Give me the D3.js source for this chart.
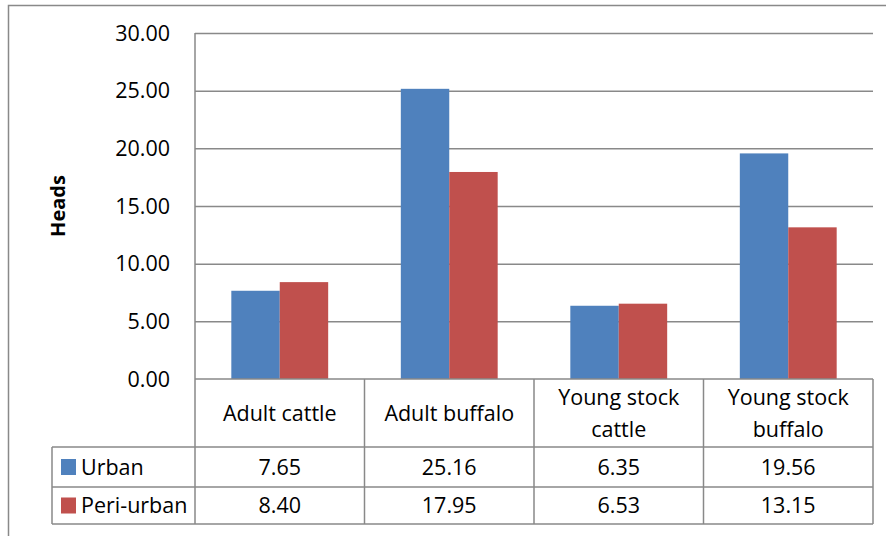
<!DOCTYPE html>
<html>
<head>
<meta charset="utf-8">
<script src="https://cdn.jsdelivr.net/npm/d3@7"></script>
<style>
  html, body { margin: 0; padding: 0; background: #fff; }
  svg { display: block; }
  text { font-family: "Open Sans", sans-serif; fill: #000; }
</style>
</head>
<body>
<svg id="chart" width="886" height="536"></svg>
<script>
// Herd composition, mean heads per household
const categories = [["Adult cattle"], ["Adult buffalo"], ["Young stock", "cattle"], ["Young stock", "buffalo"]];
const seriesNames = ["Urban", "Peri-urban"];
const urban = [7.65, 25.16, 6.35, 19.56];
const periUrban = [8.40, 17.95, 6.53, 13.15];
const yTicks = [0, 5, 10, 15, 20, 25, 30];
const colors = ["#4F81BD", "#C0504D"];

const series = [urban, periUrban];
const svg = d3.select("#chart");
const gridColor = "#898989";
const fontSize = 21.5;

// plot frame
const plot = { left: 195, right: 873, top: 33, bottom: 379 };
const table = { left: 52, headBottom: 447, row1Bottom: 487, bottom: 524 };

// outer chart border
svg.append("rect")
  .attr("x", 8.5).attr("y", 5.5).attr("width", 900).attr("height", 560)
  .attr("fill", "none").attr("stroke", gridColor).attr("stroke-width", 1.5);

const catIdx = d3.range(categories.length);
const x = d3.scaleBand().domain(catIdx).range([plot.left, plot.right]).paddingInner(0).paddingOuter(0);
const groupWidth = x.bandwidth() * 2 / 3.5;
const xs = d3.scaleBand().domain(d3.range(series.length)).range([0, groupWidth]);
const y = d3.scaleLinear().domain([0, 30]).range([plot.bottom, plot.top]);

// gridlines
svg.append("g")
  .attr("transform", `translate(${plot.left},0)`)
  .call(d3.axisLeft(y).tickValues(yTicks.slice(1)).tickSize(-(plot.right - plot.left)).tickFormat(""))
  .call(g => g.select(".domain").remove())
  .call(g => g.selectAll("line").attr("stroke", gridColor).attr("stroke-width", 1.5));

// tick labels
svg.append("g")
  .selectAll("text").data(yTicks).join("text")
  .attr("x", 170).attr("y", d => y(d)).attr("dy", "0.36em")
  .attr("text-anchor", "end").attr("font-size", fontSize)
  .text(d => d3.format(".2f")(d));

// bars
svg.append("g").selectAll("g").data(series).join("g")
  .attr("fill", (d, i) => colors[i])
  .each(function (vals, si) {
    d3.select(this).selectAll("rect").data(vals).join("rect")
      .attr("x", (v, ci) => x(ci) + (x.bandwidth() - groupWidth) / 2 + xs(si))
      .attr("width", xs.bandwidth())
      .attr("y", v => y(v))
      .attr("height", v => y(0) - y(v));
  });

// axis lines and data table grid
const lines = svg.append("g").attr("stroke", gridColor).attr("stroke-width", 1.5).attr("fill", "none");
lines.append("line").attr("x1", plot.left).attr("x2", plot.left).attr("y1", plot.top).attr("y2", table.bottom);
lines.append("line").attr("x1", plot.left).attr("x2", plot.right).attr("y1", plot.bottom).attr("y2", plot.bottom);
catIdx.forEach(ci => {
  const xr = x(ci) + x.bandwidth();
  lines.append("line").attr("x1", xr).attr("x2", xr).attr("y1", plot.bottom).attr("y2", table.bottom);
});
[table.headBottom, table.row1Bottom, table.bottom].forEach(yy => {
  lines.append("line").attr("x1", table.left).attr("x2", plot.right).attr("y1", yy).attr("y2", yy);
});
lines.append("line").attr("x1", table.left).attr("x2", table.left).attr("y1", table.headBottom).attr("y2", table.bottom);

// category header cells
const headMid = (plot.bottom + table.headBottom) / 2;
svg.append("g").selectAll("text").data(categories).join("text")
  .attr("text-anchor", "middle").attr("font-size", fontSize)
  .attr("x", (d, i) => x(i) + x.bandwidth() / 2)
  .attr("y", d => headMid - (d.length - 1) * 16)
  .each(function (d) {
    d3.select(this).selectAll("tspan").data(d).join("tspan")
      .attr("x", d3.select(this).attr("x"))
      .attr("dy", (t, j) => j === 0 ? "0.36em" : 32)
      .text(t => t);
  });

// data rows with legend keys
const rowMids = [(table.headBottom + table.row1Bottom) / 2, (table.row1Bottom + table.bottom) / 2];
series.forEach((vals, si) => {
  const ym = rowMids[si];
  svg.append("rect").attr("x", 61).attr("y", ym - 8).attr("width", 15).attr("height", 16).attr("fill", colors[si]);
  svg.append("text").attr("x", 81).attr("y", ym).attr("dy", "0.36em").attr("font-size", fontSize).text(seriesNames[si]);
  svg.append("g").selectAll("text").data(vals).join("text")
    .attr("x", (v, ci) => x(ci) + x.bandwidth() / 2).attr("y", ym).attr("dy", "0.36em")
    .attr("text-anchor", "middle").attr("font-size", fontSize)
    .text(v => d3.format(".2f")(v));
});

// y axis title
svg.append("text")
  .attr("transform", "translate(58,206) rotate(-90)")
  .attr("text-anchor", "middle").attr("dy", "0.36em")
  .attr("font-size", 20).attr("font-weight", "bold")
  .text("Heads");
</script>
</body>
</html>
